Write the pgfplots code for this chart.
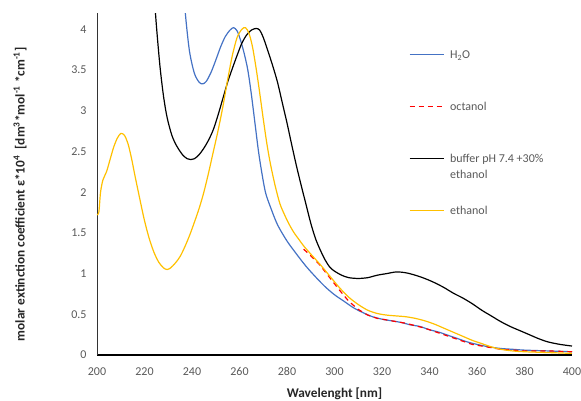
\documentclass[border=0pt]{standalone}
\usepackage{fontspec}
\setmainfont{Carlito}
\usepackage{pgfplots}
\pgfplotsset{compat=1.18}
\definecolor{xlblue}{HTML}{4472C4}
\definecolor{xlgold}{HTML}{FFC000}
\definecolor{xlred}{HTML}{FF0000}
\definecolor{txtgray}{HTML}{595959}
\definecolor{titlegray}{HTML}{262626}

\begin{document}
\begin{tikzpicture}
\begin{axis}[
  scale only axis, width=475pt, height=342pt,
  xmin=200, xmax=400, ymin=0, ymax=4.2,
  axis x line=bottom, axis y line=left, axis line style={-},
  x axis line style={line width=1.3pt, black},
  y axis line style={line width=0.8pt, black!80},
  xtick={200,220,...,400}, ytick={0,0.5,...,4},
  major tick length=0pt,
  tick label style={font=\fontsize{12}{14}\selectfont, text=txtgray},
  /pgf/number format/assume math mode=true,
  xticklabel style={yshift=-9pt},
  yticklabel style={xshift=-7pt},
  xlabel={Wavelenght [nm]},
  ylabel={molar extinction coefficient ε*10\textsuperscript{4}\ \ [dm\textsuperscript{3}*mol\textsuperscript{-1} *cm\textsuperscript{-1}]},
  xlabel style={at={(axis description cs:0.5,-0.114)}, anchor=center, font=\bfseries\fontsize{13.3}{15}\selectfont, text=titlegray},
  ylabel style={at={(axis description cs:-0.162,0.47)}, anchor=center, font=\bfseries\fontsize{13.3}{15}\selectfont, text=titlegray},
  legend image code/.code={\draw[#1] (0pt,3.8pt) -- (34pt,3.8pt);},
  legend style={at={(axis description cs:0.65,0.906)}, anchor=north west, draw=none, fill=none,
    font=\fontsize{12}{16}\selectfont, row sep=39pt, column sep=4pt,
    nodes={text height=9pt, text depth=0pt, inner sep=2pt, text=txtgray},
    cells={anchor=base west}},
  every axis plot/.append style={line width=1.2pt},
]
\addplot[xlblue, smooth] coordinates {
(235,5.0) (236.5,4.45) (237.5,4.1) (239,3.72) (241,3.46) (243,3.35) (244.5,3.33) (246,3.36)
(248,3.47) (250,3.62) (252,3.78) (254,3.91) (256,3.99) (257.5,4.02) (259,3.98) (260.5,3.86)
(262,3.70) (263.5,3.50) (265,3.20) (266.5,2.85) (268,2.50) (269.5,2.22) (271,1.99) (273,1.82)
(276,1.60) (280,1.40) (284,1.24) (288,1.09) (292,0.96) (296,0.84) (300,0.74) (304,0.66)
(308,0.58) (312,0.52) (316,0.47) (320,0.44) (324,0.42) (328,0.40) (332,0.37) (336,0.35)
(340,0.31) (344,0.28) (348,0.24) (352,0.20) (356,0.16) (360,0.13) (365,0.10) (370,0.08)
(375,0.07) (380,0.06) (390,0.05) (400,0.04)
};
\addlegendentry{H\textsubscript{2}O}
\addplot[xlred, dash pattern=on 5pt off 4pt] coordinates {
(287,1.30) (290,1.22) (294,1.10) (298,0.95) (302,0.80) (306,0.66) (310,0.56) (314,0.49)
(318,0.45) (322,0.43) (326,0.41) (330,0.39) (334,0.36) (338,0.33) (342,0.29) (346,0.25)
(350,0.21) (354,0.17) (358,0.13) (362,0.11) (366,0.09) (370,0.07) (375,0.06) (380,0.05)
(390,0.05) (400,0.04)
};
\addlegendentry{octanol}
\addplot[black, smooth] coordinates {
(222.5,5.0) (224,4.45) (225,4.05) (226.5,3.55) (228,3.18) (229.5,2.92) (231.5,2.70) (233.5,2.57)
(236,2.46) (238,2.41) (239.5,2.40) (241,2.41) (243,2.46) (245,2.54) (247,2.64) (249,2.77)
(251,2.95) (253,3.15) (255,3.35) (257,3.52) (259,3.68) (261,3.83) (263,3.93) (265,3.99)
(267,4.01) (268.5,3.99) (270,3.90) (272,3.73) (274,3.55) (276,3.35) (278,3.10) (280,2.85)
(282,2.58) (284,2.32) (286,2.08) (288,1.85) (290,1.62) (292,1.43) (294,1.29) (296,1.17)
(298,1.08) (300,1.03) (303,0.98) (306,0.95) (310,0.94) (314,0.95) (318,0.98) (322,1.00)
(326,1.02) (330,1.01) (334,0.98) (338,0.94) (342,0.89) (346,0.83) (350,0.76) (354,0.70)
(358,0.63) (362,0.55) (366,0.48) (370,0.41) (374,0.35) (378,0.30) (382,0.25) (386,0.20)
(390,0.16) (395,0.13) (400,0.11)
};
\addlegendentry{\parbox[t]{4cm}{buffer pH 7.4 +30\%\\ethanol}}
\addplot[xlgold, smooth] coordinates {
(200,1.72) (200.8,1.76) (201.5,2.0) (202.5,2.15) (204,2.25) (205.5,2.40) (207,2.55) (208.5,2.66)
(210,2.72) (211.5,2.70) (213,2.60) (214.5,2.42) (216,2.20) (218,1.92) (220,1.65) (222,1.43)
(224,1.26) (226,1.14) (228,1.07) (229.5,1.05) (231,1.07) (233,1.13) (235,1.21) (237,1.33)
(239,1.47) (241,1.63) (243,1.80) (245,2.00) (247,2.24) (249,2.50) (251,2.76) (253,3.05)
(255,3.38) (257,3.68) (259,3.90) (261,4.00) (262.5,4.02) (264,3.95) (265.5,3.78) (267,3.52)
(268.5,3.22) (270,2.90) (271.5,2.60) (273,2.35) (275,2.08) (277,1.86) (279,1.72) (281,1.60)
(283,1.50) (285,1.42) (287,1.34) (290,1.24) (294,1.11) (298,0.97) (302,0.83) (306,0.71)
(310,0.62) (314,0.55) (318,0.51) (322,0.49) (326,0.48) (330,0.47) (334,0.45) (338,0.42)
(342,0.38) (346,0.33) (350,0.28) (354,0.23) (358,0.18) (362,0.14) (366,0.10) (370,0.07)
(375,0.05) (380,0.04) (390,0.03) (400,0.02)
};
\addlegendentry{ethanol}
\coordinate (ll) at (rel axis cs:0,0);
\coordinate (ur) at (rel axis cs:1,1);
\end{axis}
\pgfresetboundingbox
\path ([shift={(-97pt,-45pt)}]ll) rectangle ([shift={(9pt,13pt)}]ur);
\end{tikzpicture}
\end{document}
